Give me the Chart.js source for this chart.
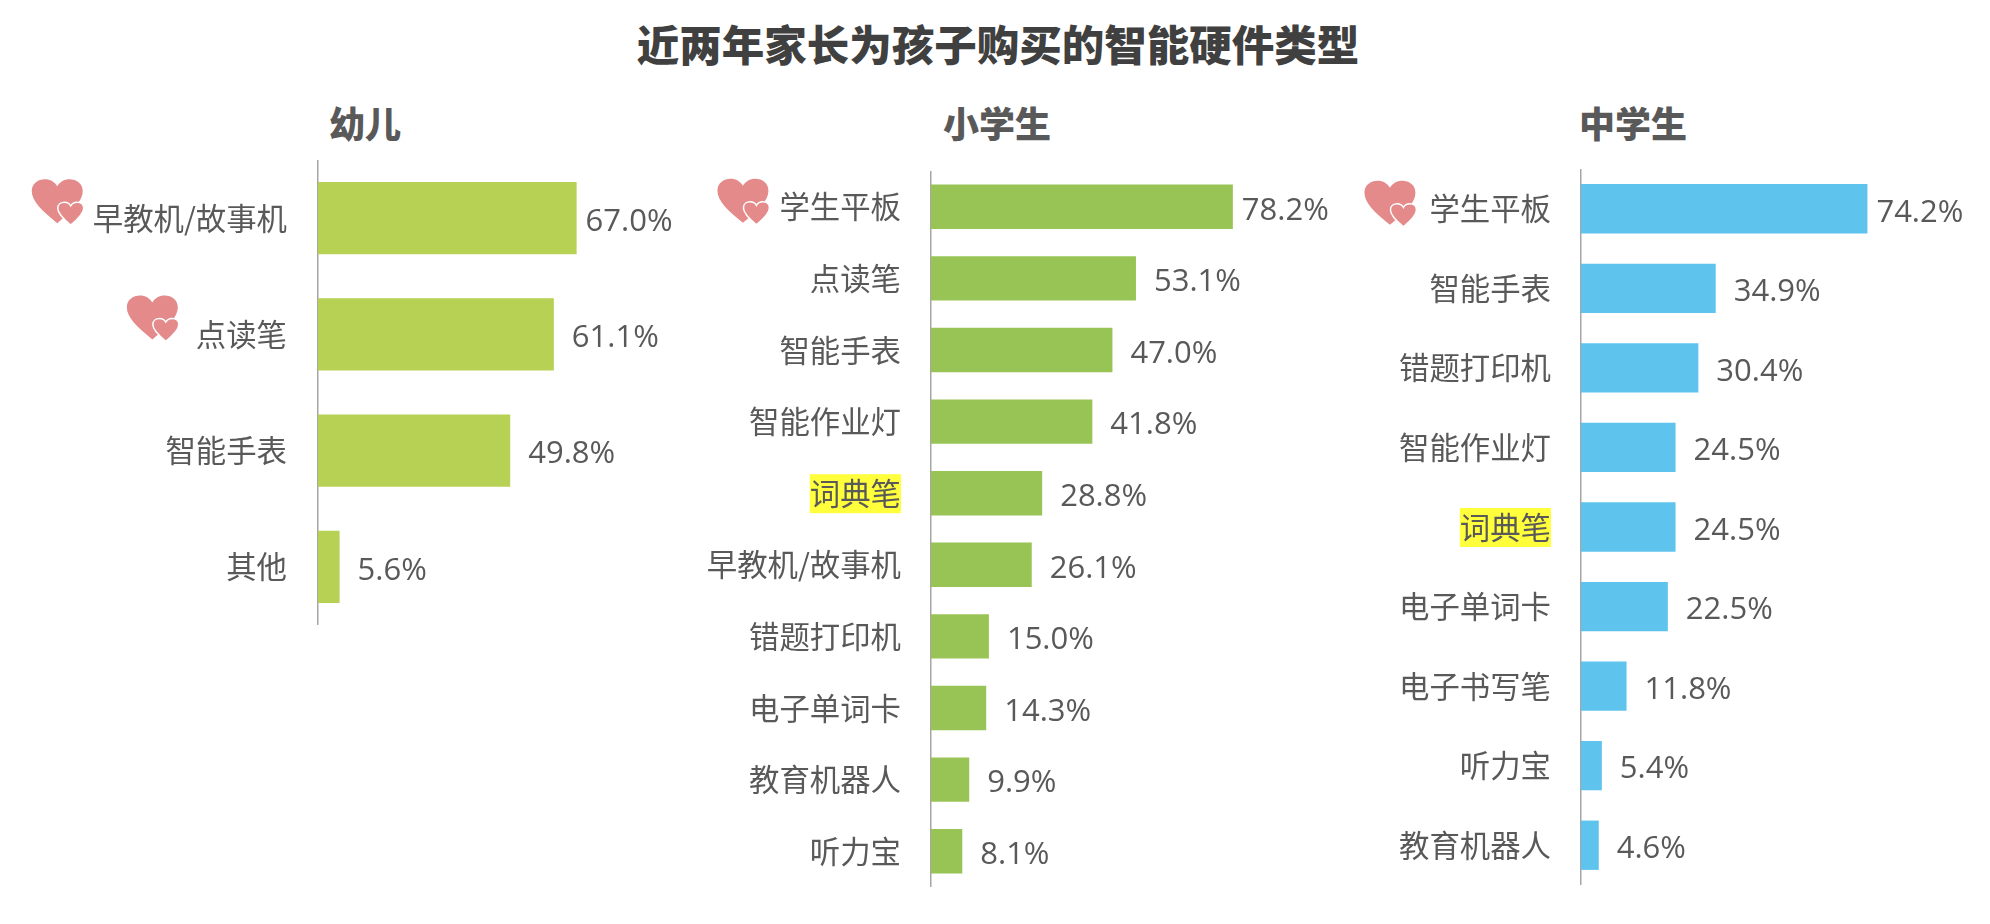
<!DOCTYPE html>
<html lang="zh">
<head>
<meta charset="utf-8">
<title>近两年家长为孩子购买的智能硬件类型</title>
<script src="https://cdn.jsdelivr.net/npm/chart.js@4"></script>
<style>
    html, body { margin: 0; padding: 0; background: #fff; }
    body { width: 1990px; height: 924px; position: relative; overflow: hidden; font-family: "Noto Sans CJK SC", sans-serif; }
    canvas { position: absolute; }
    .title { position: absolute; left: 3px; width: 1990px; top: 13px; line-height: 60px; text-align: center; font-size: 42.5px; font-weight: 900; color: #404040; }
    .head { position: absolute; top: 96px; line-height: 52px; font-size: 36px; font-weight: 900; color: #595959; }
</style>
</head>
<body>
<div class="title">近两年家长为孩子购买的智能硬件类型</div>
<div class="head" style="left: 329px;">幼儿</div>
<div class="head" style="left: 943px;">小学生</div>
<div class="head" style="left: 1579px;">中学生</div>
<canvas id="chartKids" width="730" height="465" style="left: 0; top: 160px;"></canvas>
<canvas id="chartPrimary" width="640" height="716" style="left: 690px; top: 171px;"></canvas>
<canvas id="chartMiddle" width="650" height="716" style="left: 1340px; top: 169px;"></canvas>
<script>
const kidsLabels = ["早教机/故事机", "点读笔", "智能手表", "其他"];
const kidsValues = [67.0, 61.1, 49.8, 5.6];

const primaryLabels = ["学生平板", "点读笔", "智能手表", "智能作业灯", "词典笔", "早教机/故事机", "错题打印机", "电子单词卡", "教育机器人", "听力宝"];
const primaryValues = [78.2, 53.1, 47.0, 41.8, 28.8, 26.1, 15.0, 14.3, 9.9, 8.1];

const middleLabels = ["学生平板", "智能手表", "错题打印机", "智能作业灯", "词典笔", "电子单词卡", "电子书写笔", "听力宝", "教育机器人"];
const middleValues = [74.2, 34.9, 30.4, 24.5, 24.5, 22.5, 11.8, 5.4, 4.6];

const LABEL_SIZE = 30.4;
const LABEL_FONT = LABEL_SIZE + 'px "Noto Sans CJK SC"';
const VALUE_FONT = '31px "Open Sans"';
const TEXT_COLOR = "#595959";
const PLOT_WIDTH = 386; // 100% on the x axis, same in all three panels

function heartPath(ctx, x, y, w, h) {
    ctx.beginPath();
    ctx.moveTo(x + w * 0.5, y + h);
    ctx.bezierCurveTo(x + w * 0.2, y + h * 0.72, x, y + h * 0.5, x, y + h * 0.27);
    ctx.bezierCurveTo(x, y + h * 0.1, x + w * 0.12, y, x + w * 0.26, y);
    ctx.bezierCurveTo(x + w * 0.36, y, x + w * 0.45, y + h * 0.06, x + w * 0.5, y + h * 0.16);
    ctx.bezierCurveTo(x + w * 0.55, y + h * 0.06, x + w * 0.64, y, x + w * 0.74, y);
    ctx.bezierCurveTo(x + w * 0.88, y, x + w, y + h * 0.1, x + w, y + h * 0.27);
    ctx.bezierCurveTo(x + w, y + h * 0.5, x + w * 0.8, y + h * 0.72, x + w * 0.5, y + h);
    ctx.closePath();
}

function drawHearts(ctx, x, y) {
    ctx.fillStyle = "#E48A8A";
    heartPath(ctx, x, y, 51, 44);
    ctx.fill();
    heartPath(ctx, x + 26, y + 23, 26, 23);
    ctx.fill();
    ctx.strokeStyle = "#fff";
    ctx.lineWidth = 1.5;
    heartPath(ctx, x + 26, y + 23, 26, 23);
    ctx.stroke();
}

// yellow marker behind a tick label and the hearts in front of the favourites
const labelMarks = {
    id: "labelMarks",
    beforeDraw(chart, args, opts) {
        const ctx = chart.ctx;
        const yScale = chart.scales.y;
        const labelRight = yScale.right - yScale.options.ticks.padding;
        ctx.save();
        ctx.font = LABEL_FONT;
        const labels = chart.data.labels;
        labels.forEach((label, i) => {
            const w = ctx.measureText(label).width;
            const cy = yScale.getPixelForTick(i);
            if (label === "词典笔") {
                ctx.fillStyle = "#FFFF3C";
                ctx.fillRect(labelRight - w, cy - 19, w, 39);
            }
            const heart = opts.hearts.find(h => h.index === i);
            if (heart) {
                drawHearts(ctx, labelRight - w - heart.gap - 51, cy + heart.rise);
            }
        });
        ctx.restore();
    }
};

const valueLabels = {
    id: "valueLabels",
    afterDatasetsDraw(chart) {
        const ctx = chart.ctx;
        const values = chart.data.datasets[0].data;
        ctx.save();
        ctx.font = VALUE_FONT;
        ctx.fillStyle = TEXT_COLOR;
        ctx.textAlign = "left";
        ctx.textBaseline = "middle";
        chart.getDatasetMeta(0).data.forEach((bar, i) => {
            const gap = i === 0 ? 9 : 18;
            ctx.fillText(values[i].toFixed(1) + "%", bar.x + gap, bar.y + 4);
        });
        ctx.restore();
    }
};

function makePanel(id, labels, values, color, axisX, tickPad, hearts) {
    return new Chart(document.getElementById(id), {
        type: "bar",
        data: {
            labels: labels,
            datasets: [{
                data: values,
                backgroundColor: color,
                borderWidth: 0,
                barPercentage: 0.62,
                categoryPercentage: 1
            }]
        },
        options: {
            indexAxis: "y",
            responsive: false,
            animation: false,
            devicePixelRatio: 1,
            layout: { padding: { left: 0, top: 0, bottom: 0, right: document.getElementById(id).width - axisX - PLOT_WIDTH } },
            plugins: {
                legend: { display: false },
                tooltip: { enabled: false },
                labelMarks: { hearts: hearts }
            },
            scales: {
                x: { display: false, min: 0, max: 100 },
                y: {
                    afterFit(scale) {
                        scale.width = axisX;
                        // the axis line has to run the full canvas height
                        scale.paddingTop = 0;
                        scale.paddingBottom = 0;
                    },
                    grid: { display: false, drawTicks: false },
                    border: { display: true, color: "#A6A6A6", width: 1.5 },
                    ticks: {
                        autoSkip: false,
                        padding: tickPad,
                        color: TEXT_COLOR,
                        font: { family: '"Noto Sans CJK SC"', size: LABEL_SIZE }
                    }
                }
            }
        },
        plugins: [labelMarks, valueLabels]
    });
}

makePanel("chartKids", kidsLabels, kidsValues, "#B7D155", 318, 31, [
    { index: 0, gap: 10, rise: -39 },
    { index: 1, gap: 18, rise: -39 }
]);
makePanel("chartPrimary", primaryLabels, primaryValues, "#98C455", 241, 30, [
    { index: 0, gap: 11, rise: -28 }
]);
makePanel("chartMiddle", middleLabels, middleValues, "#5EC4EE", 241, 30, [
    { index: 0, gap: 14, rise: -28 }
]);
</script>
</body>
</html>
